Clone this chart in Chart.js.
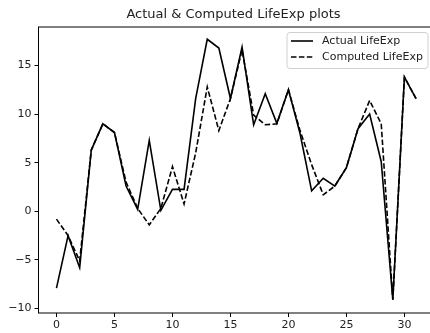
<!DOCTYPE html>
<html>
<head>
<meta charset="utf-8">
<script src="https://cdn.jsdelivr.net/npm/chart.js@4"></script>
<style>
html,body{margin:0;padding:0;background:#fff;overflow:hidden;width:430px;height:333px;}
canvas{display:block;}
</style>
</head>
<body>
<canvas id="c" width="440" height="333"></canvas>
<script>
const chartTitle = "Actual & Computed LifeExp plots";
const xValues = [0,1,2,3,4,5,6,7,8,9,10,11,12,13,14,15,16,17,18,19,20,21,22,23,24,25,26,27,28,29,30,31];
const actualLabel = "Actual LifeExp";
const computedLabel = "Computed LifeExp";
const actual = [-7.9, -2.5, -5.8, 6.3, 9.0, 8.1, 2.6, 0.2, 7.3, 0.1, 2.26, 2.26, 11.6, 17.7, 16.8, 11.6, 16.9, 8.9, 12.1, 9.05, 12.5, 8.0, 2.1, 3.4, 2.6, 4.5, 8.5, 10.0, 5.1, -9.1, 13.8, 11.6];
const computed = [-0.8, -2.5, -5.1, 6.3, 9.0, 8.1, 3.0, 0.3, -1.4, 0.3, 4.6, 0.75, 6.0, 12.8, 8.3, 11.6, 16.6, 9.9, 8.9, 9.0, 12.5, 8.3, 4.8, 1.7, 2.6, 4.5, 8.5, 11.4, 9.0, -9.1, 13.8, 11.6];

const FONT = "'DejaVu Sans', sans-serif";

const framePlugin = {
  id: 'frame',
  afterDraw(chart) {
    const ctx = chart.ctx, a = chart.chartArea;
    ctx.save();
    ctx.strokeStyle = '#000';
    ctx.lineWidth = 1;
    ctx.strokeRect(a.left, a.top, a.right - a.left, a.bottom - a.top);
    // title
    ctx.fillStyle = '#222';
    ctx.font = '13px ' + FONT;
    ctx.textAlign = 'center';
    ctx.textBaseline = 'middle';
    ctx.fillText(chartTitle, 233.5, 15);
    // legend
    const bx = 287, by = 32.5, bw = 141, bh = 36, r = 3;
    ctx.globalAlpha = 0.8;
    ctx.fillStyle = '#fff';
    ctx.beginPath();
    ctx.roundRect(bx, by, bw, bh, r);
    ctx.fill();
    ctx.globalAlpha = 1;
    ctx.strokeStyle = '#d0d0d0';
    ctx.lineWidth = 1;
    ctx.stroke();
    const items = chart.data.datasets;
    ctx.font = '11px ' + FONT;
    ctx.textAlign = 'left';
    ctx.textBaseline = 'middle';
    items.forEach((ds, i) => {
      const y = 41 + i * 16;
      ctx.strokeStyle = ds.borderColor;
      ctx.lineWidth = ds.borderWidth;
      ctx.setLineDash(ds.borderDash || []);
      ctx.beginPath();
      ctx.moveTo(291, y);
      ctx.lineTo(313, y);
      ctx.stroke();
      ctx.setLineDash([]);
      ctx.fillStyle = '#222';
      ctx.fillText(ds.label, 322, y + 0.5);
    });
    ctx.restore();
  }
};

new Chart(document.getElementById('c'), {
  type: 'line',
  data: {
    datasets: [
      { label: actualLabel, data: xValues.map((x, i) => ({x, y: actual[i]})), borderColor: '#000', borderWidth: 1.6, pointRadius: 0, tension: 0, fill: false, order: 2 },
      { label: computedLabel, data: xValues.map((x, i) => ({x, y: computed[i]})), borderColor: '#000', borderWidth: 1.6, borderDash: [5.5, 2.4], pointRadius: 0, tension: 0, fill: false, order: 1 }
    ]
  },
  options: {
    responsive: false,
    animation: false,
    devicePixelRatio: 1,
    layout: { padding: { top: 27, right: 6, left: 0, bottom: 0 } },
    plugins: { legend: { display: false }, title: { display: false }, tooltip: { enabled: false } },
    scales: {
      x: {
        type: 'linear',
        min: -1.55, max: 32.55,
        afterFit(s) { s.height = 20; },
        border: { display: false },
        grid: { drawOnChartArea: false, drawTicks: true, tickLength: 4, color: '#000' },
        ticks: { stepSize: 5, includeBounds: false, padding: 2, color: '#222', font: { family: FONT, size: 11 }, maxRotation: 0 }
      },
      y: {
        type: 'linear',
        min: -10.46, max: 18.96,
        afterFit(s) { s.width = 38.5; },
        border: { display: false },
        grid: { drawOnChartArea: false, drawTicks: true, tickLength: 4, color: '#000' },
        ticks: { stepSize: 5, includeBounds: false, padding: 3, color: '#222', font: { family: FONT, size: 11 },
          callback: v => (v < 0 ? '\u2212' + Math.abs(v) : String(v)) }
      }
    }
  },
  plugins: [framePlugin]
});
</script>
</body>
</html>
